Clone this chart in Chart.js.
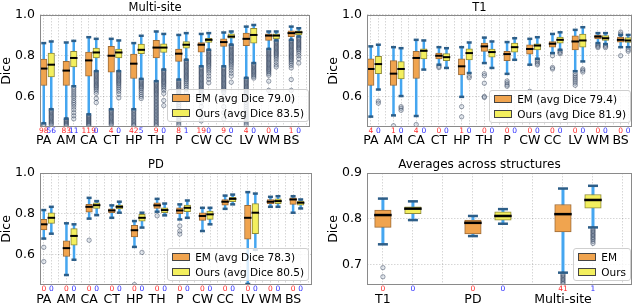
<!DOCTYPE html>
<html>
<head>
<meta charset="utf-8">
<script src="https://cdn.jsdelivr.net/npm/chart.js@4.4.1/dist/chart.umd.min.js"></script>
<style>
  body { margin: 0; background: #fff; }
  #wrap { position: relative; width: 640px; height: 306px; overflow: hidden; font-family: 'DejaVu Sans', sans-serif; }
  #wrap canvas { position: absolute; }
  .leg { position: absolute; background: rgba(255,255,255,0.8); border: 1px solid #cfcfcf; border-radius: 3px;
         padding: 1px 4px; font-size: 10.5px; line-height: 14.5px; color: #000; white-space: nowrap; }
  .leg .h { display: inline-block; width: 16px; height: 6px; border: 1px solid #444; margin-right: 5px;
            vertical-align: middle; position: relative; top: -1px; }
</style>
</head>
<body>
<div id="wrap">
  <canvas id="c1" width="320" height="153" style="left:0;top:0"></canvas>
  <canvas id="c2" width="320" height="153" style="left:320px;top:0"></canvas>
  <canvas id="c3" width="320" height="153" style="left:0;top:153px"></canvas>
  <canvas id="c4" width="320" height="153" style="left:320px;top:153px"></canvas>
  <div class="leg" id="l1" style="right:331px;bottom:184px"></div>
  <div class="leg" id="l2" style="right:9px;bottom:183px"></div>
  <div class="leg" id="l3" style="right:331px;bottom:25px"></div>
  <div class="leg" id="l4" style="right:9px;bottom:25px"></div>
</div>
<script>
// structures and groups
const categories = ['PA', 'AM', 'CA', 'CT', 'HP', 'TH', 'P', 'CW', 'CC', 'LV', 'WM', 'BS'];
const groups = ['T1', 'PD', 'Multi-site'];
const avgDiceEM = [79.0, 79.4, 78.3];
const avgDiceOurs = [83.5, 81.9, 80.5];

// every box row: [whisker low, q1, median, q3, whisker high]
const multiEM = [
  [0.468, 0.654, 0.737, 0.784, 0.862], [0.491, 0.654, 0.727, 0.772, 0.865], [0.512, 0.699, 0.777, 0.818, 0.891],
  [0.537, 0.719, 0.800, 0.846, 0.883], [0.537, 0.688, 0.761, 0.808, 0.862], [0.675, 0.789, 0.840, 0.875, 0.919],
  [0.683, 0.772, 0.810, 0.833, 0.902], [0.748, 0.818, 0.854, 0.865, 0.907], [0.748, 0.846, 0.867, 0.883, 0.914],
  [0.691, 0.849, 0.883, 0.911, 0.943], [0.833, 0.875, 0.899, 0.907, 0.919], [0.878, 0.894, 0.911, 0.922, 0.943]
];
const multiOurs = [
  [0.537, 0.696, 0.756, 0.813, 0.870], [0.650, 0.745, 0.789, 0.821, 0.873], [0.724, 0.789, 0.816, 0.837, 0.883],
  [0.724, 0.789, 0.816, 0.833, 0.875], [0.686, 0.810, 0.829, 0.857, 0.898], [0.732, 0.816, 0.840, 0.859, 0.907],
  [0.780, 0.837, 0.854, 0.870, 0.911], [0.829, 0.865, 0.878, 0.886, 0.911], [0.854, 0.886, 0.894, 0.907, 0.919],
  [0.764, 0.862, 0.902, 0.935, 0.951], [0.875, 0.883, 0.899, 0.907, 0.919], [0.894, 0.902, 0.915, 0.922, 0.935]
];
const multiEMOut = [
  [0.463, 0.458],
  [0.487, 0.482, 0.477, 0.472, 0.467, 0.462, 0.457],
  [0.507, 0.502, 0.497, 0.492, 0.487, 0.482, 0.477, 0.472, 0.467, 0.462, 0.457],
  [0.532, 0.526, 0.52, 0.514, 0.508, 0.502, 0.496, 0.49, 0.484, 0.478, 0.472, 0.466, 0.46],
  [0.532, 0.525, 0.518, 0.511, 0.504, 0.497, 0.49, 0.483, 0.476, 0.469, 0.462, 0.456],
  [0.67, 0.664, 0.658, 0.652, 0.646, 0.64, 0.634, 0.628, 0.622, 0.616, 0.61, 0.603, 0.596, 0.589, 0.582, 0.575, 0.568,
   0.561, 0.554, 0.547, 0.54, 0.533, 0.526, 0.519, 0.512, 0.505, 0.498, 0.491, 0.484, 0.477, 0.47, 0.463, 0.456],
  [0.676, 0.67, 0.664, 0.658, 0.652, 0.646, 0.64, 0.633, 0.626, 0.619, 0.612, 0.605, 0.598, 0.59, 0.58, 0.57, 0.56,
   0.55, 0.54, 0.53, 0.52, 0.51, 0.5, 0.49, 0.48, 0.47, 0.46],
  [0.742, 0.736, 0.73, 0.724, 0.718, 0.712, 0.706, 0.7, 0.694, 0.688, 0.682, 0.676, 0.67, 0.664, 0.658, 0.652, 0.646,
   0.64, 0.634, 0.628, 0.62, 0.61, 0.59, 0.57, 0.55, 0.52, 0.5, 0.48],
  [0.742, 0.736, 0.73, 0.724, 0.718, 0.712, 0.706, 0.7, 0.694, 0.688, 0.682, 0.676, 0.67, 0.664, 0.658, 0.652, 0.646,
   0.64, 0.634, 0.628, 0.62, 0.6, 0.58, 0.55, 0.52, 0.49],
  [0.686, 0.68, 0.674, 0.668, 0.662, 0.656, 0.65, 0.644, 0.638, 0.632, 0.626, 0.62, 0.614, 0.608, 0.6, 0.59, 0.58,
   0.57, 0.56, 0.55, 0.54, 0.53, 0.52, 0.51, 0.5, 0.49, 0.48, 0.47, 0.46],
  [0.828, 0.822, 0.816, 0.81, 0.804, 0.798, 0.792, 0.786, 0.78, 0.774, 0.768, 0.762, 0.756, 0.75, 0.744, 0.738, 0.732,
   0.726, 0.72, 0.712, 0.704, 0.675, 0.63],
  [0.874, 0.868, 0.862, 0.856, 0.85, 0.844, 0.838, 0.832, 0.826, 0.82, 0.814, 0.808, 0.802, 0.796, 0.79, 0.784, 0.778,
   0.77, 0.762, 0.752, 0.74, 0.683, 0.63, 0.585]
];
const multiOursOut = [
  [0.532, 0.526, 0.52, 0.514, 0.508, 0.502, 0.496, 0.49, 0.484, 0.478, 0.472, 0.466, 0.46],
  [0.642, 0.632, 0.622, 0.612, 0.602, 0.592, 0.58, 0.57, 0.56, 0.548, 0.535, 0.52, 0.505, 0.49],
  [0.72, 0.714, 0.708, 0.702, 0.696, 0.69, 0.684, 0.678, 0.672, 0.666, 0.66, 0.654, 0.648, 0.642, 0.635, 0.626, 0.615, 0.59, 0.57],
  [0.72, 0.714, 0.708, 0.702, 0.696, 0.69, 0.684, 0.678, 0.672, 0.666, 0.66, 0.652, 0.644, 0.635, 0.625, 0.612, 0.593],
  [0.68, 0.674, 0.668, 0.662, 0.656, 0.65, 0.644, 0.638, 0.63, 0.62, 0.61, 0.6, 0.59],
  [0.728, 0.722, 0.716, 0.71, 0.704, 0.698, 0.692, 0.686, 0.68, 0.674, 0.668, 0.662, 0.655, 0.648, 0.64, 0.63, 0.615, 0.58, 0.555],
  [0.776, 0.77, 0.764, 0.758, 0.752, 0.746, 0.74, 0.734, 0.728, 0.722, 0.716, 0.71, 0.704, 0.698, 0.692, 0.686, 0.68,
   0.672, 0.664, 0.655, 0.645, 0.635, 0.62, 0.6],
  [0.825, 0.819, 0.813, 0.807, 0.801, 0.795, 0.789, 0.783, 0.777, 0.771, 0.765, 0.759, 0.752, 0.745, 0.736, 0.726, 0.715, 0.7, 0.685, 0.667],
  [0.85, 0.844, 0.838, 0.832, 0.826, 0.82, 0.814, 0.808, 0.802, 0.796, 0.79, 0.784, 0.778, 0.772, 0.765, 0.758, 0.75,
   0.74, 0.728, 0.714, 0.7, 0.67],
  [0.758, 0.752, 0.746, 0.74, 0.734, 0.728, 0.722, 0.716, 0.71, 0.704, 0.697, 0.69],
  [0.87, 0.864, 0.858, 0.852, 0.846, 0.84, 0.834, 0.828, 0.822, 0.816, 0.81, 0.804, 0.798, 0.79, 0.78, 0.768, 0.755, 0.745],
  [0.89, 0.884, 0.878, 0.872, 0.866, 0.86, 0.854, 0.848, 0.842, 0.836, 0.83, 0.822, 0.812, 0.8, 0.785, 0.764]
];
const multiEMBelow = [98, 83, 119, 4, 42, 9, 8, 19, 9, 4, 0, 1];
const multiOursBelow = [56, 11, 0, 0, 5, 0, 1, 0, 0, 0, 0, 0];

const t1EM = [
  [0.501, 0.654, 0.735, 0.785, 0.846], [0.507, 0.654, 0.712, 0.776, 0.842], [0.504, 0.688, 0.789, 0.821, 0.878],
  [0.756, 0.784, 0.800, 0.813, 0.842], [0.598, 0.706, 0.748, 0.785, 0.842], [0.764, 0.821, 0.846, 0.862, 0.889],
  [0.711, 0.776, 0.808, 0.821, 0.867], [0.756, 0.808, 0.833, 0.854, 0.883], [0.813, 0.842, 0.859, 0.870, 0.907],
  [0.724, 0.829, 0.870, 0.898, 0.927], [0.862, 0.883, 0.894, 0.902, 0.911], [0.842, 0.867, 0.878, 0.891, 0.902]
];
const t1Ours = [
  [0.634, 0.712, 0.759, 0.797, 0.854], [0.602, 0.686, 0.735, 0.771, 0.837], [0.732, 0.784, 0.824, 0.834, 0.875],
  [0.740, 0.776, 0.793, 0.810, 0.837], [0.715, 0.780, 0.813, 0.834, 0.865], [0.740, 0.793, 0.818, 0.833, 0.870],
  [0.780, 0.818, 0.842, 0.862, 0.886], [0.785, 0.829, 0.850, 0.859, 0.891], [0.829, 0.862, 0.878, 0.891, 0.915],
  [0.772, 0.842, 0.875, 0.906, 0.940], [0.857, 0.875, 0.886, 0.899, 0.911], [0.842, 0.865, 0.875, 0.889, 0.902]
];
const t1EMOut = [[], [0.456], [0.462], [0.748, 0.742], [0.55, 0.50], [0.712, 0.702, 0.665, 0.60, 0.595],
  [0.676, 0.667, 0.657, 0.65], [0.625], [0.80, 0.742, 0.735], [0.712, 0.703, 0.694, 0.685, 0.676, 0.666, 0.655],
  [0.856, 0.85, 0.845, 0.84], [0.916, 0.906, 0.80]];
const t1OursOut = [[0.577, 0.567], [0.55, 0.542, 0.532], [], [], [0.70, 0.692], [], [],
  [0.778, 0.77, 0.762, 0.755], [0.823, 0.816, 0.81], [0.735, 0.728, 0.72], [0.852, 0.846, 0.84], [0.83, 0.822]];
const t1EMBelow = [4, 1, 4, 0, 1, 0, 0, 0, 0, 0, 0, 0];
const t1OursBelow = [0, 0, 0, 0, 0, 0, 0, 0, 0, 0, 0, 0];

const pdEM = [
  [0.678, 0.720, 0.748, 0.772, 0.818], [0.499, 0.590, 0.631, 0.667, 0.753], [0.776, 0.808, 0.834, 0.846, 0.878],
  [0.780, 0.805, 0.816, 0.824, 0.841], [0.637, 0.686, 0.719, 0.743, 0.764], [0.810, 0.826, 0.841, 0.854, 0.873],
  [0.772, 0.800, 0.816, 0.829, 0.846], [0.715, 0.767, 0.789, 0.805, 0.829], [0.824, 0.842, 0.859, 0.870, 0.889],
  [0.455, 0.675, 0.780, 0.841, 0.906], [0.834, 0.849, 0.859, 0.870, 0.883], [0.805, 0.846, 0.870, 0.878, 0.886]
];
const pdOurs = [
  [0.702, 0.753, 0.780, 0.805, 0.834], [0.574, 0.646, 0.691, 0.727, 0.748], [0.793, 0.826, 0.842, 0.854, 0.862],
  [0.805, 0.824, 0.834, 0.842, 0.859], [0.732, 0.764, 0.780, 0.797, 0.805], [0.792, 0.805, 0.818, 0.829, 0.850],
  [0.780, 0.810, 0.829, 0.842, 0.865], [0.748, 0.772, 0.797, 0.813, 0.829], [0.846, 0.859, 0.873, 0.881, 0.894],
  [0.623, 0.702, 0.805, 0.850, 0.899], [0.834, 0.850, 0.862, 0.873, 0.886], [0.826, 0.842, 0.854, 0.862, 0.870]
];
const pdEMOut = [[0.635, 0.565], [], [0.67], [], [0.452], [0.79], [0.74, 0.715, 0.70], [], [], [], [], []];
const pdOursOut = [[], [], [], [], [0.61], [], [], [], [], [], [], []];
const pdEMBelow = [0, 0, 0, 0, 0, 0, 0, 0, 0, 0, 0, 0];
const pdOursBelow = [0, 0, 0, 0, 0, 0, 0, 0, 0, 0, 0, 0];

const avgEM = [[0.744, 0.781, 0.808, 0.819, 0.844], [0.762, 0.767, 0.791, 0.797, 0.806], [0.682, 0.771, 0.810, 0.831, 0.866]];
const avgOurs = [[0.797, 0.811, 0.822, 0.826, 0.838], [0.789, 0.797, 0.806, 0.815, 0.821], [0.781, 0.823, 0.841, 0.853, 0.872]];
const avgEMOut = [[0.693, 0.673], [], [0.679, 0.676, 0.673, 0.67, 0.667, 0.664, 0.661, 0.658]];
const avgOursOut = [[], [], [0.778, 0.775, 0.772, 0.769, 0.766, 0.763, 0.76, 0.757, 0.754, 0.75, 0.746]];
const avgEMBelow = [0, 0, 41];
const avgOursBelow = [0, 0, 1];

Chart.defaults.font.family = "'DejaVu Sans', sans-serif";
Chart.defaults.color = '#000';

const EM_FILL = '#f0a44f', EM_EDGE = '#9c6b38';
const OURS_FILL = '#f3ef5e', OURS_EDGE = '#8e8a3b';
const WHISKER = '#45a6f0', CAP = '#2d5e88';
const GRID = 'rgba(0,0,0,0.16)', FRAME = '#8a8a8a';

function makePanel(id, p) {
  const emPos = p.em.map((r, i) => 3 * i + 1);
  const oursPos = p.ours.map((r, i) => 3 * i + 2);
  const gridPos = [];
  for (let v = 1; v <= p.xMax; v++) if (v >= p.xMin) gridPos.push(v);
  const series = [{ rows: p.em, pos: emPos }, { rows: p.ours, pos: oursPos }];

  const outPoints = (outs, pos) => outs.flatMap((arr, i) => arr.map(v => ({ x: pos[i], y: v })));
  const boxSet = (rows, pos, fill, edge) => ({
    type: 'bar',
    data: rows.map((r, i) => ({ x: pos[i], y: [r[1], r[3]] })),
    backgroundColor: fill, borderColor: edge, borderWidth: 1, borderSkipped: false,
    barThickness: p.boxW, grouped: false
  });
  const outSet = (pts) => ({
    type: 'scatter', data: pts, showLine: false,
    pointRadius: 2.2, pointBorderWidth: 0.9,
    pointBackgroundColor: 'rgba(130,155,180,0.22)', pointBorderColor: 'rgba(30,45,70,0.48)'
  });

  const clipArea = (ctx, a) => { ctx.beginPath(); ctx.rect(a.left, a.top, a.width, a.height); ctx.clip(); };

  // whiskers under the boxes, caps and medians on top
  const boxParts = {
    id: 'boxParts',
    beforeDatasetsDraw(chart) {
      const { ctx, chartArea: a, scales: { x, y } } = chart;
      ctx.save();
      clipArea(ctx, a);
      ctx.strokeStyle = WHISKER;
      ctx.lineWidth = p.whiskerW;
      series.forEach(s => s.rows.forEach((r, i) => {
        const px = x.getPixelForValue(s.pos[i]);
        ctx.beginPath();
        ctx.moveTo(px, y.getPixelForValue(r[0]));
        ctx.lineTo(px, y.getPixelForValue(r[4]));
        ctx.stroke();
      }));
      ctx.restore();
    },
    afterDatasetsDraw(chart) {
      const { ctx, chartArea: a, scales: { x, y } } = chart;
      ctx.save();
      clipArea(ctx, a);
      series.forEach(s => s.rows.forEach((r, i) => {
        const px = x.getPixelForValue(s.pos[i]);
        ctx.strokeStyle = CAP;
        ctx.lineWidth = p.capLW;
        [r[0], r[4]].forEach(v => {
          const py = y.getPixelForValue(v);
          ctx.beginPath(); ctx.moveTo(px - p.capW / 2, py); ctx.lineTo(px + p.capW / 2, py); ctx.stroke();
        });
        const pm = y.getPixelForValue(r[2]);
        ctx.strokeStyle = '#000';
        ctx.lineWidth = p.medW;
        ctx.beginPath(); ctx.moveTo(px - p.boxW / 2 - 0.5, pm); ctx.lineTo(px + p.boxW / 2 + 0.5, pm); ctx.stroke();
      }));
      ctx.restore();
      ctx.save();
      ctx.strokeStyle = FRAME;
      ctx.lineWidth = 1;
      ctx.strokeRect(a.left + 0.5, a.top + 0.5, a.width - 1, a.height - 1);
      ctx.restore();
    }
  };

  new Chart(document.getElementById(id), {
    type: 'bar',
    data: {
      datasets: [
        boxSet(p.em, emPos, EM_FILL, EM_EDGE),
        boxSet(p.ours, oursPos, OURS_FILL, OURS_EDGE),
        outSet(outPoints(p.emOut, emPos)),
        outSet(outPoints(p.oursOut, oursPos))
      ]
    },
    options: {
      responsive: false,
      animation: false,
      devicePixelRatio: 1,
      events: [],
      layout: { padding: { left: p.padLeft, right: p.padRight, top: 0, bottom: 0 } },
      plugins: {
        legend: { display: false },
        tooltip: { enabled: false },
        title: {
          display: true, text: p.title, color: '#000',
          font: { size: p.titleSize, weight: 'normal', lineHeight: 1.2 },
          padding: { top: p.titleTop, bottom: p.titleBottom }
        }
      },
      scales: {
        x: {
          type: 'linear', min: p.xMin, max: p.xMax, offset: false, weight: 0,
          afterBuildTicks: s => { s.ticks = gridPos.map(v => ({ value: v })); },
          afterFit: s => { s.height = p.xH; },
          grid: { color: GRID, drawTicks: false, offset: false },
          border: { display: false, dash: [1.5, 1.5] },
          ticks: {
            autoSkip: false, maxRotation: 0, minRotation: 0, padding: 0,
            font: { size: 7.5 },
            color: c => ((c.tick.value - 1) % 3 === 0 ? '#ff2b2b' : '#2b2bff'),
            callback: v => {
              const k = Math.round(v) - 1, g = Math.floor(k / 3);
              if (k % 3 === 0) return String(p.emBelow[g]);
              if (k % 3 === 1) return String(p.oursBelow[g]);
              return '';
            }
          }
        },
        x2: {
          type: 'linear', position: 'bottom', min: p.xMin, max: p.xMax, offset: false, weight: 1,
          afterBuildTicks: s => { s.ticks = emPos.map(v => ({ value: v })); },
          afterFit: s => { s.height = p.x2H; },
          grid: { display: false, drawTicks: false, offset: false },
          border: { display: false },
          ticks: {
            autoSkip: false, maxRotation: 0, minRotation: 0, padding: 0,
            font: { size: 12.5 },
            callback: v => p.labels[Math.round((v - 1) / 3)]
          }
        },
        y: {
          type: 'linear', min: p.yMin, max: p.yMax, bounds: 'data',
          afterBuildTicks: s => { s.ticks = p.yTicks.map(v => ({ value: v })); },
          afterFit: s => { s.width = p.yW; },
          grid: { color: GRID, drawTicks: false },
          border: { display: false, dash: [1.5, 1.5] },
          ticks: { padding: 5, font: { size: 12.5 }, callback: v => v.toFixed(1) },
          title: { display: true, text: 'Dice', font: { size: 12.5, lineHeight: 1 }, padding: { top: 0, bottom: 0 } }
        }
      }
    },
    plugins: [boxParts]
  });
}

const smallBox = { boxW: 6.5, capW: 5, capLW: 2.5, whiskerW: 2.5, medW: 2 };

makePanel('c1', Object.assign({
  title: 'Multi-site', titleSize: 11.5, titleTop: 1.2, titleBottom: 0,
  em: multiEM, ours: multiOurs, emOut: multiEMOut, oursOut: multiOursOut,
  emBelow: multiEMBelow, oursBelow: multiOursBelow, labels: categories,
  xMin: 0.5, xMax: 36.5, yMin: 0.45, yMax: 1.0, yTicks: [0.6, 0.8, 1.0],
  padLeft: 0, padRight: 10, yW: 40, xH: 6, x2H: 20
}, smallBox));

makePanel('c2', Object.assign({
  title: 'T1', titleSize: 11.5, titleTop: 1.2, titleBottom: 0,
  em: t1EM, ours: t1Ours, emOut: t1EMOut, oursOut: t1OursOut,
  emBelow: t1EMBelow, oursBelow: t1OursBelow, labels: categories,
  xMin: 0.5, xMax: 35.5, yMin: 0.45, yMax: 1.0, yTicks: [0.6, 0.8, 1.0],
  padLeft: 7, padRight: 8, yW: 40, xH: 6, x2H: 20
}, smallBox));

makePanel('c3', Object.assign({
  title: 'PD', titleSize: 11.5, titleTop: 5.5, titleBottom: 0.7,
  em: pdEM, ours: pdOurs, emOut: pdEMOut, oursOut: pdOursOut,
  emBelow: pdEMBelow, oursBelow: pdOursBelow, labels: categories,
  xMin: 0.5, xMax: 36.5, yMin: 0.45, yMax: 1.0, yTicks: [0.6, 0.8, 1.0],
  padLeft: 0, padRight: 8, yW: 40, xH: 7, x2H: 14
}, smallBox));

makePanel('c4', {
  title: 'Averages across structures', titleSize: 12, titleTop: 5, titleBottom: 0.6,
  em: avgEM, ours: avgOurs, emOut: avgEMOut, oursOut: avgOursOut,
  emBelow: avgEMBelow, oursBelow: avgOursBelow, labels: groups,
  xMin: 0.47, xMax: 9.3, yMin: 0.655, yMax: 0.9, yTicks: [0.7, 0.8, 0.9],
  padLeft: 7, padRight: 8, yW: 40, xH: 7, x2H: 14,
  boxW: 16.5, capW: 10, capLW: 2.5, whiskerW: 3, medW: 2.5
});

// legends
function legendRow(fill, text) {
  return '<div><span class="h" style="background:' + fill + '"></span>' + text + '</div>';
}
['l1', 'l2', 'l3'].forEach((id, i) => {
  document.getElementById(id).innerHTML =
    legendRow(EM_FILL, 'EM (avg Dice ' + avgDiceEM[i].toFixed(1) + ')') +
    legendRow(OURS_FILL, 'Ours (avg Dice ' + avgDiceOurs[i].toFixed(1) + ')');
});
document.getElementById('l4').innerHTML = legendRow(EM_FILL, 'EM') + legendRow(OURS_FILL, 'Ours');
</script>
</body>
</html>
